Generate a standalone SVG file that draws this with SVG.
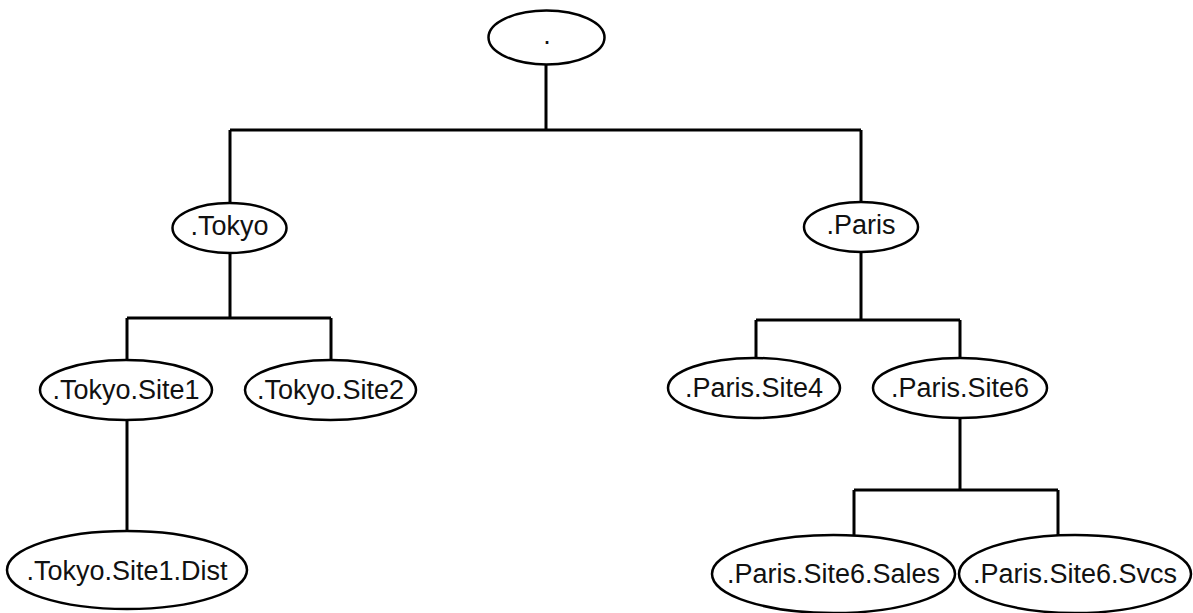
<svg xmlns="http://www.w3.org/2000/svg" width="1193" height="613" viewBox="0 0 1193 613">
<style>
.n ellipse{fill:#fff;stroke:#000;stroke-width:2.5}
.n text{font-family:"Liberation Sans",Arial,sans-serif;font-size:27px;fill:#111;text-anchor:middle}
.c{fill:none;stroke:#000;stroke-width:3}
</style>
<rect width="1193" height="613" fill="#fff"/>
<g id="connectors" class="c">
<path d="M546,65V130M230,130H861M230,130V203M861,130V202"/>
<path d="M230,253V318M127,318H331M127,318V360M331,318V360"/>
<path d="M127,420V531"/>
<path d="M861,252V320M756,320H960M756,320V358M960,320V358"/>
<path d="M960,418V490M854,490H1058M854,490V535M1058,490V535"/>
</g>
<g id="root" class="n"><ellipse cx="546.5" cy="37.5" rx="58" ry="27"/><text x="547" y="44">.</text></g>
<g id="tokyo" class="n"><ellipse cx="229.5" cy="228" rx="57" ry="25"/><text x="229.5" y="235">.Tokyo</text></g>
<g id="paris" class="n"><ellipse cx="861" cy="227" rx="57" ry="25"/><text x="861" y="234">.Paris</text></g>
<g id="tokyo-site1" class="n"><ellipse cx="126" cy="390" rx="86" ry="30"/><text x="126" y="399">.Tokyo.Site1</text></g>
<g id="tokyo-site2" class="n"><ellipse cx="330.5" cy="390" rx="85.5" ry="30"/><text x="330.5" y="399">.Tokyo.Site2</text></g>
<g id="tokyo-site1-dist" class="n"><ellipse cx="127" cy="570" rx="120" ry="39"/><text x="127" y="580">.Tokyo.Site1.Dist</text></g>
<g id="paris-site4" class="n"><ellipse cx="754" cy="388" rx="86" ry="30"/><text x="754" y="397">.Paris.Site4</text></g>
<g id="paris-site6" class="n"><ellipse cx="960" cy="388" rx="87" ry="30"/><text x="960" y="397">.Paris.Site6</text></g>
<g id="paris-site6-sales" class="n"><ellipse cx="833.5" cy="574" rx="121.5" ry="39"/><text x="833.5" y="583">.Paris.Site6.Sales</text></g>
<g id="paris-site6-svcs" class="n"><ellipse cx="1075" cy="574" rx="116" ry="39"/><text x="1075" y="583">.Paris.Site6.Svcs</text></g>
</svg>
